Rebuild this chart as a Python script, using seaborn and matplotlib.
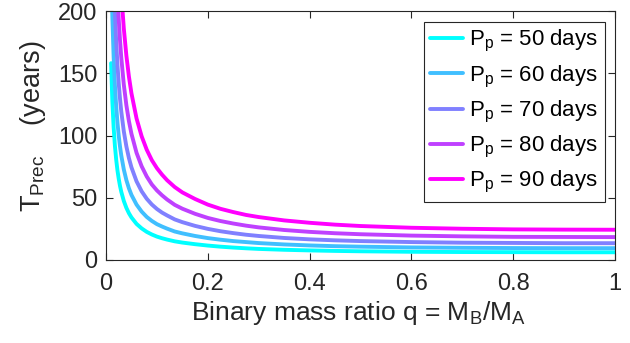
import numpy as np
import pandas as pd
import matplotlib
matplotlib.use("Agg")
import matplotlib.pyplot as plt
import seaborn as sns

# Binary mass ratio q (x values)
q = [0.01, 0.0125, 0.015, 0.0175, 0.02, 0.0225, 0.025, 0.0275, 0.03, 0.035, 0.04,
     0.045, 0.05, 0.06, 0.07, 0.08, 0.09, 0.1, 0.11, 0.12, 0.135, 0.15, 0.175, 0.2,
     0.225, 0.25, 0.275, 0.3, 0.35, 0.4, 0.45, 0.5, 0.6, 0.7, 0.8, 0.9, 1.0]

periods = [50, 60, 70, 80, 90]  # planet period P_p (days)

# Precession period T_Prec (years)
t_50 = [158.1, 127.1, 106.5, 91.7, 80.7, 72.0, 65.2, 59.5, 54.8, 47.4, 41.9,
        37.6, 34.2, 29.0, 25.4, 22.6, 20.5, 18.8, 17.5, 16.4, 15.0, 14.0, 12.7, 11.6,
        10.7, 10.0, 9.4, 8.9, 8.2, 7.7, 7.3, 7.0, 6.6, 6.4, 6.3, 6.2, 6.2]
t_60 = [242.0, 194.8, 163.0, 140.5, 123.6, 110.4, 99.8, 91.2, 84.0, 72.7, 64.2,
        57.6, 52.3, 44.5, 38.9, 34.6, 31.4, 28.8, 26.9, 25.2, 22.9, 21.4, 19.3, 17.6,
        16.3, 15.2, 14.4, 13.6, 12.5, 11.7, 11.1, 10.7, 10.1, 9.8, 9.6, 9.5, 9.5]
t_70 = [344.0, 276.8, 231.8, 199.7, 175.6, 156.8, 141.9, 129.6, 119.3, 103.3, 91.3,
        81.9, 74.4, 63.2, 55.2, 49.2, 44.6, 41.0, 38.1, 35.8, 32.6, 30.4, 27.4, 25.0,
        23.1, 21.6, 20.3, 19.3, 17.7, 16.6, 15.8, 15.2, 14.4, 13.9, 13.7, 13.5, 13.5]
t_80 = [469.0, 377.0, 316.0, 272.0, 239.4, 213.8, 193.4, 176.6, 162.7, 140.8, 124.4,
        111.6, 101.4, 86.1, 75.3, 67.1, 60.7, 55.9, 52.0, 48.6, 44.3, 41.2, 37.1, 33.8,
        31.3, 29.3, 27.6, 26.2, 24.1, 22.6, 21.5, 20.7, 19.6, 19.0, 18.6, 18.5, 18.4]
t_90 = [620.0, 498.0, 417.0, 359.0, 316.0, 282.3, 255.0, 233.2, 214.8, 185.9, 164.3,
        147.4, 133.9, 113.7, 99.4, 88.6, 80.2, 73.8, 68.6, 64.1, 58.6, 54.3, 49.0, 44.5,
        41.1, 38.5, 36.2, 34.5, 31.8, 29.9, 28.4, 27.3, 25.9, 25.1, 24.6, 24.4, 24.3]

series = [t_50, t_60, t_70, t_80, t_90]
labels = [r"$\mathregular{P_p}$ = %d days" % p for p in periods]
colors = ["#00FFFF", "#40BFFF", "#8080FF", "#BF40FF", "#FF00FF"]

rows = []
for lab, vals in zip(labels, series):
    for qq, v in zip(q, vals):
        rows.append({"q": qq, "T": v, "series": lab})
df = pd.DataFrame(rows)

sns.set_style("ticks")
plt.rcParams["font.family"] = ["Liberation Sans", "DejaVu Sans"]
plt.rcParams["mathtext.fontset"] = "custom"
plt.rcParams["mathtext.rm"] = "Liberation Sans"
plt.rcParams["mathtext.it"] = "Liberation Sans:italic"

fig = plt.figure(figsize=(6.30, 3.43), dpi=100)
ax = fig.add_axes([106 / 630, 1 - 260 / 343, 509 / 630, 249 / 343])

sns.lineplot(data=df, x="q", y="T", hue="series", hue_order=labels,
             palette=colors, linewidth=2.8, ax=ax, estimator=None, sort=False)

ax.set_xlim(0, 1)
ax.set_ylim(0, 200)
ax.set_xticks([0, 0.2, 0.4, 0.6, 0.8, 1.0])
ax.set_xticklabels(["0", "0.2", "0.4", "0.6", "0.8", "1"])
ax.set_yticks([0, 50, 100, 150, 200])
ax.set_yticklabels(["0", "50", "100", "150", "200"])

dark = "#262626"
for s in ax.spines.values():
    s.set_visible(True)
    s.set_color(dark)
    s.set_linewidth(0.8)
ax.tick_params(direction="in", top=True, right=True, length=5, width=0.8,
               colors=dark, labelsize=17)
ax.tick_params(axis="x", pad=9)
ax.tick_params(axis="y", pad=6)

ax.set_xlabel(r"Binary mass ratio q = $\mathregular{M_B/M_A}$", fontsize=19,
              color=dark)
ax.set_ylabel(r"$\mathregular{T_{Prec}}$" + "    (years)", fontsize=19.5, color=dark)
ax.xaxis.set_label_coords(0.496, -0.155)
ax.yaxis.set_label_coords(-0.114, 0.538)

leg = ax.legend(loc="upper right", bbox_to_anchor=(0.98, 0.957), borderaxespad=0,
                fontsize=16, frameon=True, fancybox=False, handlelength=1.45,
                handletextpad=0.3, labelspacing=0.41, borderpad=0.3)
leg.get_frame().set_edgecolor(dark)
leg.get_frame().set_linewidth(0.8)
leg.get_frame().set_alpha(1)
for t in leg.get_texts():
    t.set_color("black")

fig.savefig("out.png", dpi=100)
